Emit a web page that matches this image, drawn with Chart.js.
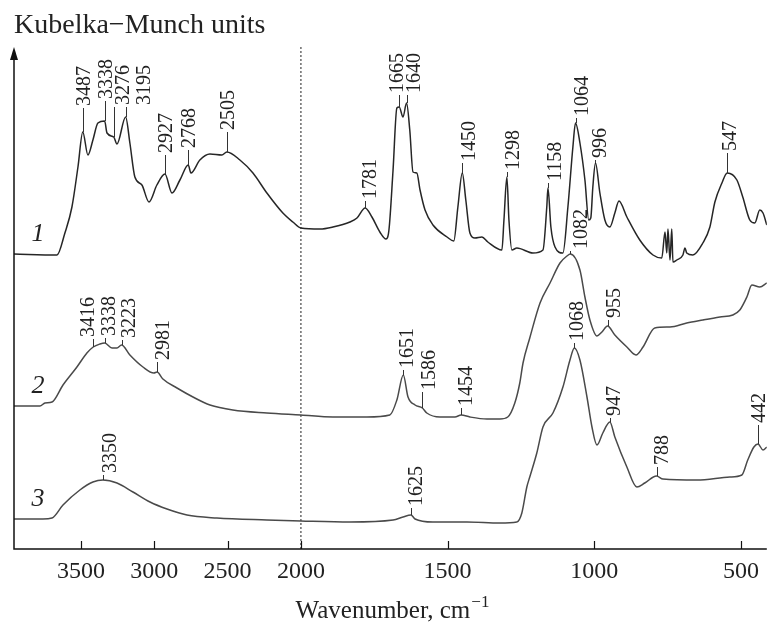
<!DOCTYPE html>
<html>
<head>
<meta charset="utf-8">
<script src="https://cdn.jsdelivr.net/npm/chart.js@4.4.1/dist/chart.umd.min.js"></script>
<style>
html, body { margin: 0; background: #fff; }
#wrap { width: 767px; height: 623px; }
</style>
</head>
<body>
<div id="wrap"><canvas id="spectra"></canvas></div>
<script>
// wavenumbers (cm-1) and Kubelka-Munch values (offset stacked)
const wn1 = [3956,3663,3609,3561,3520,3487,3452,3418,3384,3338,3322,3276,3254,3195,3166,3132,3084,3036,2982,2927,
  2879,2825,2768,2750,2689,2620,2539,2505,2416,2327,2232,2123,2055,2000,1935,1891,1833,1809,1781,1758,
  1731,1710,1700,1686,1673,1665,1652,1640,1629,1618,1605,1594,1577,1550,1502,1479,1465,1450,1438,1424,
  1407,1383,1363,1315,1308,1298,1291,1281,1264,1209,1175,1162,1158,1148,1134,1107,1090,1073,1064,1049,
  1032,1019,1012,1005,996,981,964,947,930,916,889,845,800,770,759,753,749,742,736,732,
  719,698,691,685,664,630,606,589,565,547,514,494,470,453,436,425,412];
const km1 = [295,294,316,342,382,417,394,409,426,428,416,412,405,432,406,372,364,347,364,375,
  356,369,384,376,389,395,394,397,389,376,356,336,327,321,320,322,327,331,341,332,
  317,310,319,379,441,442,432,446,419,377,376,359,339,324,312,308,342,376,349,316,
  311,312,307,299,329,372,329,299,301,296,299,342,361,322,302,296,342,402,426,406,
  369,329,331,362,386,356,329,322,336,348,332,309,294,291,317,296,320,289,320,287,
  289,294,301,296,294,306,322,347,366,376,369,352,329,326,339,336,324];

const wn2 = [3956,3779,3745,3697,3622,3527,3459,3416,3370,3338,3288,3254,3223,3166,3077,3002,2981,2941,2845,2736,
  2620,2464,2232,2000,1891,1775,1697,1673,1651,1635,1611,1586,1571,1526,1475,1454,1424,1366,1322,1295,
  1271,1254,1243,1220,1185,1151,1117,1093,1082,1049,1032,1015,991,974,955,930,889,858,834,794,
  742,685,630,572,528,504,480,463,436,412];
const km2 = [143,143,146,147,164,182,196,202,205,206,201,201,204,194,182,176,177,170,161,152,
  144,139,136,134,132,132,134,149,174,152,144,141,136,132,132,134,132,130,130,132,
  146,166,186,211,246,266,286,293,295,279,252,229,213,217,223,214,202,194,202,221,
  222,226,229,232,234,239,252,264,262,266];

const wn3 = [3956,3759,3697,3622,3507,3418,3350,3254,3145,3029,2913,2777,2573,2232,2000,1833,1686,1652,1625,1611,
  1550,1434,1322,1264,1247,1230,1220,1196,1175,1141,1107,1083,1068,1049,1025,1008,991,971,947,930,
  889,855,828,788,766,650,538,497,477,456,442,425,412];
const km3 = [30,30,31,44,59,67,69,66,57,47,40,34,31,29,28,27,29,32,34,30,
  27,27,26,27,36,62,72,96,122,136,162,189,201,189,152,122,104,116,127,112,
  82,62,66,73,70,69,72,74,89,102,105,99,102];

const tickWn = [3500, 3000, 2500, 2000, 1500, 1000, 500];
const curveNames = ['1', '2', '3'];

const peaks1 = [3487,3338,3276,3195,2927,2768,2505,1781,1665,1640,1450,1298,1158,1064,996,547];
const peaks2 = [3416,3338,3223,2981,1651,1586,1454,1082,955];
const peaks3 = [3350,1625,1068,947,788,442];

// label leader length and sideways nudge (px)
const lift1 = [24,20,30,10,19,15,20,7,12,8,10,5,5,5,3,20];
const shift1 = [0,0,8,17,0,0,0,4,-3,6,6,5,6,5,4,2];
const lift2 = [8,5,5,10,5,16,7,3,6];
const shift2 = [-6,3,6,5,3,6,4,10,5];
const lift3 = [5,7,5,4,9,19];
const shift3 = [6,4,2,3,4,0];

// axis is compressed 2x above 2000 cm-1
function toU(w) { return w > 2000 ? 2000 + (w - 2000) / 2 : w; }
function fromU(u) { return u > 2000 ? 2000 + (u - 2000) * 2 : u; }

function interp(ws, ks, w) {
  for (let i = 0; i < ws.length - 1; i++) {
    if (w <= ws[i] && w >= ws[i + 1]) {
      const t = (ws[i] - w) / (ws[i] - ws[i + 1]);
      return ks[i] + t * (ks[i + 1] - ks[i]);
    }
  }
  return ks[ks.length - 1];
}

const series = [
  { wn: wn1, km: km1, peaks: peaks1, lift: lift1, shift: shift1, color: '#262626' },
  { wn: wn2, km: km2, peaks: peaks2, lift: lift2, shift: shift2, color: '#4a4a4a' },
  { wn: wn3, km: km3, peaks: peaks3, lift: lift3, shift: shift3, color: '#4a4a4a' }
];

const serif = '"Liberation Serif", "Times New Roman", serif';

const decor = {
  id: 'decor',
  beforeDatasetsDraw(chart) {
    const { ctx, chartArea: a, scales: { x } } = chart;
    const xd = x.getPixelForValue(toU(2000));
    ctx.save();
    ctx.strokeStyle = '#222';
    ctx.lineWidth = 1;
    ctx.setLineDash([2, 2]);
    ctx.beginPath();
    ctx.moveTo(xd, a.top);
    ctx.lineTo(xd, a.bottom);
    ctx.stroke();
    ctx.restore();
  },
  afterDatasetsDraw(chart) {
    const { ctx, chartArea: a, scales: { x, y } } = chart;
    ctx.save();
    // axes + arrow
    ctx.strokeStyle = '#111';
    ctx.fillStyle = '#111';
    ctx.lineWidth = 1.5;
    ctx.beginPath();
    ctx.moveTo(a.left, a.top + 8);
    ctx.lineTo(a.left, a.bottom);
    ctx.lineTo(a.right, a.bottom);
    ctx.stroke();
    ctx.beginPath();
    ctx.moveTo(a.left, a.top);
    ctx.lineTo(a.left - 4, a.top + 13);
    ctx.lineTo(a.left + 4, a.top + 13);
    ctx.closePath();
    ctx.fill();
    ctx.lineWidth = 1.2;
    x.ticks.forEach(t => {
      const px = Math.round(x.getPixelForValue(t.value)) + 0.5;
      ctx.beginPath();
      ctx.moveTo(px, a.bottom);
      ctx.lineTo(px, a.bottom - 8);
      ctx.stroke();
    });

    // peak labels
    ctx.fillStyle = '#222';
    ctx.strokeStyle = '#333';
    ctx.lineWidth = 1;
    ctx.font = '20px ' + serif;
    series.forEach(s => {
      s.peaks.forEach((w, i) => {
        const px = Math.round(x.getPixelForValue(toU(w))) + 0.5;
        const py = y.getPixelForValue(interp(s.wn, s.km, w));
        const top = py - s.lift[i];
        ctx.beginPath();
        ctx.moveTo(px, py);
        ctx.lineTo(px, top);
        ctx.stroke();
        ctx.save();
        ctx.translate(px + s.shift[i], top - 2);
        ctx.rotate(-Math.PI / 2);
        ctx.textAlign = 'left';
        ctx.textBaseline = 'middle';
        ctx.fillText(String(w), 0, 1);
        ctx.restore();
      });
    });

    // curve numbers
    ctx.font = 'italic 26px ' + serif;
    ctx.textAlign = 'center';
    ctx.textBaseline = 'middle';
    series.forEach((s, i) => {
      ctx.fillText(curveNames[i], a.left + 24, y.getPixelForValue(s.km[0]) - 20);
    });

    // titles
    ctx.textAlign = 'left';
    ctx.textBaseline = 'alphabetic';
    ctx.font = '28px ' + serif;
    ctx.fillText('Kubelka\u2212Munch units', a.left, 33);
    const main = 'Wavenumber, cm';
    const sup = '\u22121';
    ctx.font = '25px ' + serif;
    const mw = ctx.measureText(main).width;
    ctx.font = '17px ' + serif;
    const sw = ctx.measureText(sup).width;
    const sx = 392 - (mw + sw) / 2;
    ctx.font = '25px ' + serif;
    ctx.fillText(main, sx, 618);
    ctx.font = '17px ' + serif;
    ctx.fillText(sup, sx + mw + 1, 607);
    ctx.restore();
  }
};

new Chart(document.getElementById('spectra'), {
  type: 'line',
  data: {
    datasets: series.map(s => ({
      data: s.wn.map((w, i) => ({ x: toU(w), y: s.km[i] })),
      borderColor: s.color,
      borderWidth: 1.5,
      pointRadius: 0,
      fill: false,
      cubicInterpolationMode: 'monotone'
    }))
  },
  options: {
    responsive: true,
    maintainAspectRatio: false,
    animation: false,
    layout: { padding: { left: 14, top: 47, right: 0, bottom: 0 } },
    plugins: { legend: { display: false }, tooltip: { enabled: false } },
    scales: {
      x: {
        type: 'linear',
        reverse: true,
        min: toU(412),
        max: toU(3956),
        afterBuildTicks: s => { s.ticks = tickWn.map(w => ({ value: toU(w) })); },
        afterFit: s => { s.height = 74; },
        grid: { display: false, drawTicks: false },
        border: { display: false },
        ticks: {
          autoSkip: false,
          maxRotation: 0,
          padding: 8,
          color: '#222',
          font: { family: serif, size: 24 },
          callback: v => String(fromU(v))
        }
      },
      y: { display: false, min: 0, max: 502 }
    }
  },
  plugins: [decor]
});
</script>
</body>
</html>
